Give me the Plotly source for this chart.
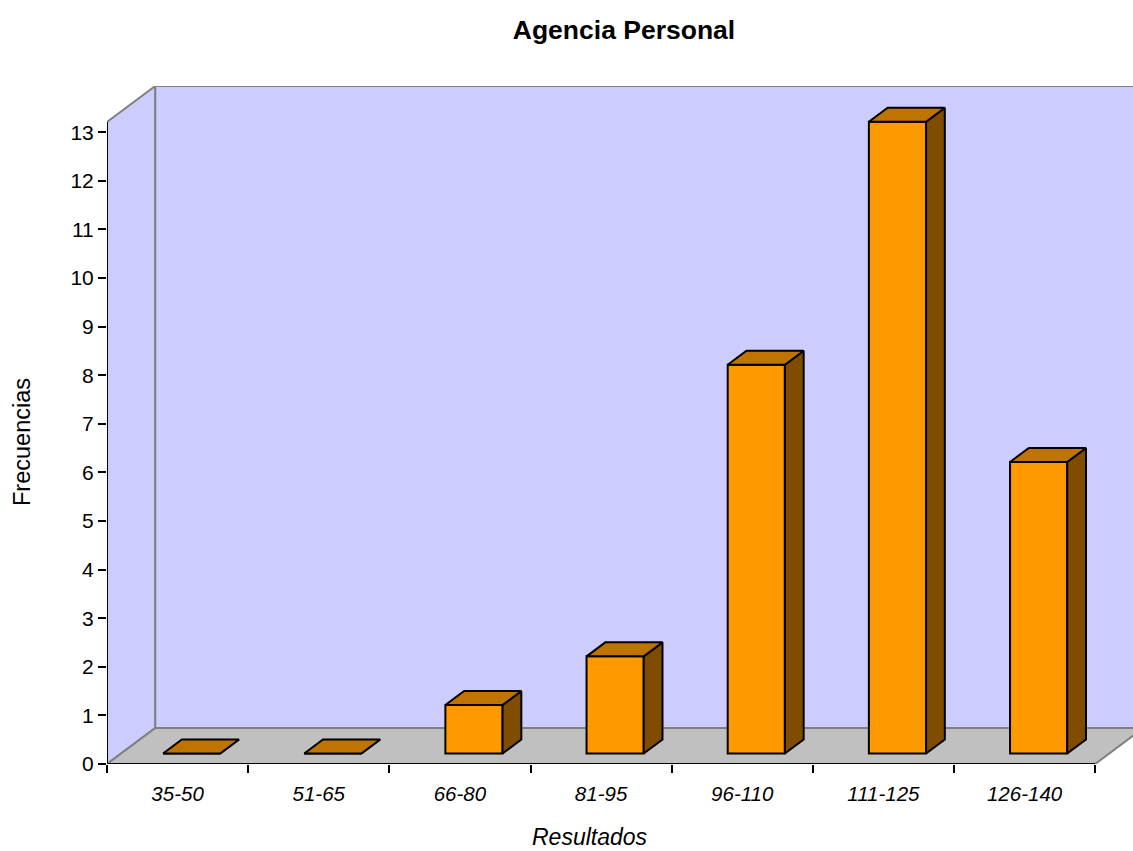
import plotly.graph_objects as go

categories = ["35-50", "51-65", "66-80", "81-95", "96-110", "111-125", "126-140"]
frecuencias = [0, 0, 1, 2, 8, 13, 6]
y_ticks = list(range(14))

FONT = "Liberation Sans"
BAR_OFFSET, BAR_W = 0.397, 0.405
DX, DY = 0.133, 0.288          # bar depth, in axis units
BASE = 0.215                   # lift of the bars' front face
FX, FY = 0.342, 0.74           # floor depth, in axis units
XMAX, YMAX = 7.268, 13.95
WALL_TOP = 13.21
n = len(categories)
EDGE = 2
GREY = dict(color="#808080", width=2)


def poly(points):
    return "M " + " L ".join(f"{x},{y}" for x, y in points) + " Z"


shapes = [
    dict(type="path", path=poly([(0, 0), (0, WALL_TOP), (FX, YMAX), (FX, FY)]), fillcolor="#CCCCFF",
         line=GREY, layer="below"),
    dict(type="path", path=poly([(FX, FY), (FX, YMAX), (XMAX + 1, YMAX), (XMAX + 1, FY)]), fillcolor="#CCCCFF",
         line=GREY, layer="below"),
    dict(type="path", path=poly([(0, 0), (FX, FY), (n + FX, FY), (n, 0)]), fillcolor="#C0C0C0",
         line=GREY, layer="below"),
]

fig = go.Figure()

lefts = [i + BAR_OFFSET for i in range(n)]
fig.add_trace(go.Bar(
    x=[l + BAR_W / 2 for l in lefts], y=frecuencias, base=[BASE] * n, width=BAR_W,
    marker=dict(color="#FF9900", line=dict(color="#000000", width=EDGE)),
    showlegend=False, hoverinfo="skip",
))

for l, v in zip(lefts, frecuencias):
    r = l + BAR_W
    top = BASE + v
    fig.add_trace(go.Scatter(
        x=[r, r + DX, r + DX, r, r], y=[BASE, BASE + DY, top + DY, top, BASE],
        mode="lines", fill="toself", fillcolor="#7F4C00",
        line=dict(color="#000000", width=EDGE), showlegend=False, hoverinfo="skip",
    ))
    fig.add_trace(go.Scatter(
        x=[l, r, r + DX, l + DX, l], y=[top, top, top + DY, top + DY, top],
        mode="lines", fill="toself", fillcolor="#BF7300",
        line=dict(color="#000000", width=EDGE), showlegend=False, hoverinfo="skip",
    ))

# Axis lines stop before the right edge of the plot, so they are drawn as traces.
fig.add_trace(go.Scatter(x=[0, n], y=[0, 0], mode="lines", line=dict(color="#000000", width=EDGE),
                         cliponaxis=False, showlegend=False, hoverinfo="skip"))
fig.add_trace(go.Scatter(x=[0, 0], y=[0, WALL_TOP], mode="lines", line=dict(color="#000000", width=EDGE),
                         cliponaxis=False, showlegend=False, hoverinfo="skip"))

fig.update_layout(
    width=1133, height=851,
    margin=dict(l=107, r=0, t=86, b=87),
    paper_bgcolor="#FFFFFF", plot_bgcolor="#FFFFFF",
    font=dict(family=FONT, color="#000000"),
    shapes=shapes, showlegend=False,
    title=dict(text="<b>Agencia Personal</b>", x=624 / 1133, xanchor="center", y=1 - 30 / 851, yanchor="middle",
               font=dict(size=26.5, family=FONT, color="#000000")),
    annotations=[
        dict(text="Resultados", xref="paper", yref="paper", x=(590 - 107) / (1133 - 107), y=-(837 - 764) / (764 - 86),
             xanchor="center", yanchor="middle", showarrow=False,
             font=dict(size=23, style="italic", family=FONT, color="#000000")),
        dict(text="Frecuencias", xref="paper", yref="paper", x=-(107 - 22) / (1133 - 107), y=(764 - 442) / (764 - 86),
             xanchor="center", yanchor="middle", textangle=-90, showarrow=False,
             font=dict(size=23.5, family=FONT, color="#000000")),
    ],
    xaxis=dict(
        range=[0, XMAX], showgrid=False, zeroline=False, showline=False,
        tickvals=[i + 0.5 for i in range(n)], ticktext=categories, ticks="",
        ticklabelstandoff=15,
        tickfont=dict(size=20.5, style="italic", family=FONT, color="#000000"),
        minor=dict(tickvals=list(range(n + 1)), ticks="outside", ticklen=8, tickwidth=EDGE, tickcolor="#000000",
                   showgrid=False),
    ),
    yaxis=dict(
        range=[0, YMAX], showgrid=False, zeroline=False, showline=False,
        tickvals=y_ticks, ticks="outside", ticklen=8, tickwidth=EDGE, tickcolor="#000000",
        tickfont=dict(size=21, family=FONT, color="#000000"),
    ),
)

fig.write_html("out.html", config=dict(displayModeBar=False), post_script="document.body.style.margin='0';")
